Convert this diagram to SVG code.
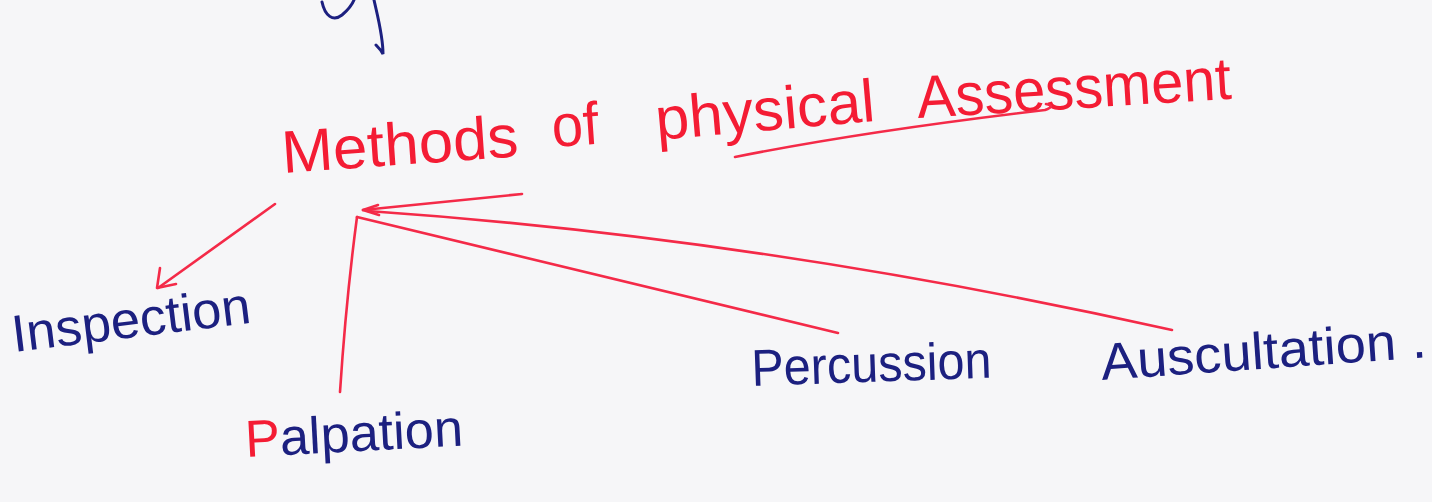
<svg xmlns="http://www.w3.org/2000/svg" width="1432" height="502" viewBox="0 0 1432 502">
  <defs>
    <style>
      .red { fill: #f41c34; font-family: "Liberation Sans", "DejaVu Sans", sans-serif; font-size: 60px; }
      .blue { fill: #1c2080; font-family: "Liberation Sans", "DejaVu Sans", sans-serif; font-size: 52px; }
      .ln { fill: none; stroke: #f42a48; stroke-width: 2.6; stroke-linecap: round; stroke-linejoin: round; }
      .ink { fill: none; stroke: #1c2080; stroke-width: 3; stroke-linecap: round; }
    </style>
  </defs>
  <rect x="0" y="0" width="1432" height="502" fill="#f6f6f8"/>

  <!-- partial stroke at the top edge -->
  <g id="top-scribble">
    <path class="ink" d="M322,2 C325,16 333,22 342,15 C348,10 352,5 354,0"/>
    <path class="ink" d="M374,0 C378,18 383,36 383,54 C381,50 378,47 376,45"/>
  </g>

  <g id="title">
    <text class="red" x="283" y="173" textLength="237" lengthAdjust="spacingAndGlyphs" transform="rotate(-4 283 173)">Methods</text>
    <text class="red" x="553" y="147" textLength="47" lengthAdjust="spacingAndGlyphs" transform="rotate(-4 553 147)">of</text>
    <text class="red" x="657" y="140" textLength="220" lengthAdjust="spacingAndGlyphs" transform="rotate(-5 657 140)">physical</text>
    <text class="red" x="918" y="118" textLength="315" lengthAdjust="spacingAndGlyphs" transform="rotate(-3.5 918 118)">Assessment</text>
  </g>

  <g id="connectors">
    <!-- underline below "physical Assessment" -->
    <path class="ln" d="M735,157 C850,134 960,120 1045,110 Q1056,106 1046,104"/>
    <!-- to Inspection -->
    <path class="ln" d="M275,204 L158,288"/>
    <path class="ln" d="M160,268 L157,288 L176,284"/>
    <!-- to Palpation -->
    <path class="ln" d="M357,217 Q346,300 340,392"/>
    <!-- from Percussion -->
    <path class="ln" d="M357,217 L838,333"/>
    <!-- from Auscultation -->
    <path class="ln" d="M368,211 Q760,238 1172,330"/>
    <!-- short stroke into hub -->
    <path class="ln" d="M522,194 L363,210"/>
    <path class="ln" d="M378,205 L363,210 L379,215"/>
  </g>

  <g id="inspection">
    <text class="blue" x="14" y="352" textLength="240" lengthAdjust="spacingAndGlyphs" transform="rotate(-7 14 352)">Inspection</text>
  </g>
  <g id="palpation">
    <text class="blue" x="246" y="457" textLength="218" lengthAdjust="spacingAndGlyphs" transform="rotate(-3 246 457)"><tspan fill="#f41c34">P</tspan>alpation</text>
  </g>
  <g id="percussion">
    <text class="blue" x="752" y="386" textLength="240" lengthAdjust="spacingAndGlyphs" transform="rotate(-2 752 386)">Percussion</text>
  </g>
  <g id="auscultation">
    <text class="blue" x="1102" y="380" textLength="326" lengthAdjust="spacingAndGlyphs" transform="rotate(-4 1102 380)">Auscultation .</text>
  </g>
</svg>
